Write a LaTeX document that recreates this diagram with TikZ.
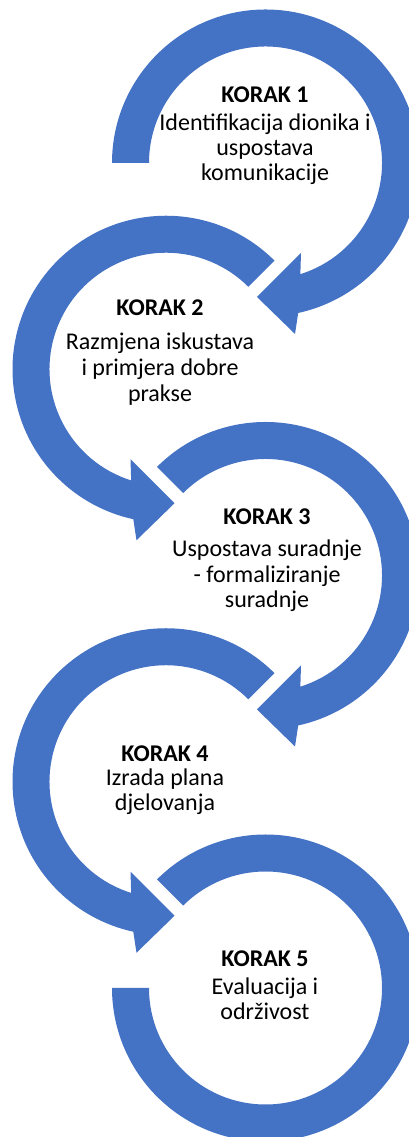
\documentclass[tikz,border=0pt]{standalone}
\usepackage{fontspec}
\setmainfont{Carlito}
\definecolor{ringblue}{HTML}{4472C4}
\tikzset{
  ringfill/.style={fill=ringblue, draw=none},
  ttl/.style={font=\fontsize{24}{28}\selectfont\bfseries, inner sep=0pt, anchor=center, text height=0.64em, text depth=0pt},
  txt/.style={font=\fontsize{24}{28}\selectfont, inner sep=0pt, anchor=center, text height=0.68em, text depth=0.18em}
}
\newcommand{\arrowring}[1]{%
  \fill[ringfill] (#1:153.5) arc[start angle=#1, end angle=-77.7, radius=153.5]
    -- (29.5,-171) -- (-8.5,-134) -- (35.5,-90) -- (-72.6:116.5)
    arc[start angle=-72.6, end angle=#1, radius=116.5] -- cycle;}
\begin{document}
\begin{tikzpicture}[x=1pt,y=1pt]
\useasboundingbox (0,0) rectangle (409,1137);
\clip (0,0) rectangle (409,1137);
% ring 1
\begin{scope}[shift={(265.5,974)}]
  \arrowring{180}
\end{scope}
% ring 2
\begin{scope}[shift={(166,767.75)}, xscale=-1]
  \arrowring{135}
\end{scope}
% ring 3
\begin{scope}[shift={(265.5,561.5)}]
  \arrowring{135}
\end{scope}
% ring 4
\begin{scope}[shift={(166,355.25)}, xscale=-1]
  \arrowring{135}
\end{scope}
% ring 5
\begin{scope}[shift={(265.5,149)}]
  \fill[ringfill] (135:153.5) arc[start angle=135, end angle=-180, radius=153.5]
    -- (-180:116.5) arc[start angle=-180, end angle=135, radius=116.5] -- cycle;
\end{scope}
% texts
\node[ttl] (k1) at (265,1137-99) {KORAK 1};
\node[txt] (k1a) at (265,1137-128) {Identifikacija dionika i};
\node[txt] (k1b) at (265,1137-153) {uspostava};
\node[txt] (k1c) at (265,1137-178) {komunikacije};
\node[ttl] (k2) at (160,1137-312) {KORAK 2};
\node[txt] (k2a) at (160,1137-347) {Razmjena iskustava};
\node[txt] (k2b) at (160,1137-373) {i primjera dobre};
\node[txt] (k2c) at (160,1137-399) {prakse};
\node[ttl] (k3) at (267,1137-521) {KORAK 3};
\node[txt] (k3a) at (267,1137-554) {Uspostava suradnje};
\node[txt] (k3b) at (267,1137-580) {- formaliziranje};
\node[txt] (k3c) at (267,1137-605) {suradnje};
\node[ttl] (k4) at (165,1137-758) {KORAK 4};
\node[txt] (k4a) at (165,1137-783) {Izrada plana};
\node[txt] (k4b) at (165,1137-808) {djelovanja};
\node[ttl] (k5) at (265,1137-963) {KORAK 5};
\node[txt] (k5a) at (265,1137-992) {Evaluacija i};
\node[txt] (k5b) at (265,1137-1017) {održivost};
\end{tikzpicture}
\end{document}
